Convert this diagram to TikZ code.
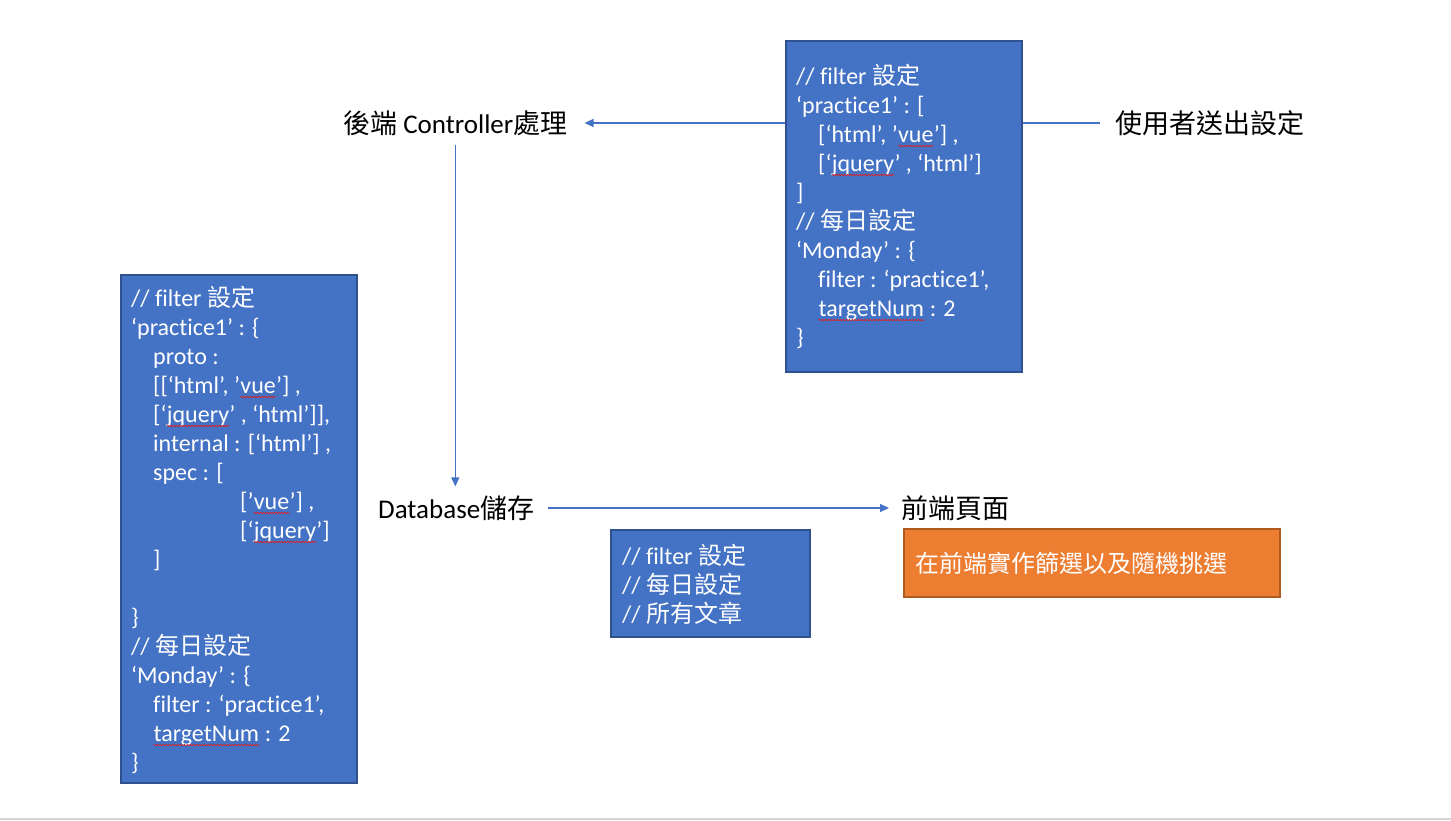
\documentclass[tikz,border=0pt]{standalone}
\usepackage{fontspec}
\setmainfont{Carlito}[Ligatures=NoCommon]
\newfontfamily\cjk{Noto Sans CJK TC}
\usetikzlibrary{arrows.meta,decorations.pathmorphing}
\definecolor{bluefill}{HTML}{4472C4}
\definecolor{blueedge}{HTML}{2F528F}
\definecolor{orangefill}{HTML}{ED7D31}
\definecolor{orangeedge}{HTML}{AE5A21}
\definecolor{rulegray}{HTML}{D4D4D4}
\definecolor{spellred}{HTML}{E02020}
\newcommand\spellmark[1]{\tikz[baseline=(sqword.base)]{\node[inner sep=0pt,outer sep=0pt] (sqword) {#1};
  \draw[spellred, line width=0.7pt, decorate, decoration={snake, amplitude=0.7pt, segment length=3pt}]
    ([yshift=-3.5pt]sqword.base west) -- ([yshift=-3.5pt]sqword.base east);}}
\begin{document}
\begin{tikzpicture}[x=1pt,y=-1pt,
  bluebox/.style={draw=blueedge, fill=bluefill, line width=1.5pt, inner sep=0pt, anchor=north west},
  orangebox/.style={draw=orangeedge, fill=orangefill, line width=1.5pt, inner sep=0pt, anchor=north west},
  code/.style={text=white, font=\fontsize{24}{29}\selectfont, align=left, anchor=north west, inner sep=0pt},
  lbl/.style={font=\fontsize{27}{32}\selectfont, inner sep=0pt, anchor=west},
  conn/.style={draw=bluefill, line width=1.3pt},
  arr/.style={conn, -{Triangle[length=9pt,width=8pt]}}]
\useasboundingbox (0,0) rectangle (1451,820);
\fill[white] (0,0) rectangle (1451,820);
\draw[rulegray, line width=2pt] (0,819) -- (1451,819);

% top-right code box
\node[bluebox, minimum width=236pt, minimum height=331pt] (filterbox) at (785,40) {};
\node[code] (filtertext) at (796,64) {%
// filter {\cjk 設定}\\
‘practice1’ : [\\
\hspace*{22pt}[‘html’, ’\spellmark{vue}’] ,\\
\hspace*{22pt}[‘\spellmark{jquery}’ , ‘html’]\\
]\\
// {\cjk 每日設定}\\
‘Monday’ : \{\\
\hspace*{22pt}filter : ‘practice1’,\\
\hspace*{22pt}\spellmark{targetNum} : 2\\
\}};

% left code box
\node[bluebox, minimum width=236pt, minimum height=508pt] (dbbox) at (120,274) {};
\node[code] (dbtext) at (131,286) {%
// filter {\cjk 設定}\\
‘practice1’ : \{\\
\hspace*{22pt}proto :\\
\hspace*{22pt}[[‘html’, ’\spellmark{vue}’] ,\\
\hspace*{22pt}[‘\spellmark{jquery}’ , ‘html’]],\\
\hspace*{22pt}internal : [‘html’] ,\\
\hspace*{22pt}spec : [\\
\hspace*{109pt}[’\spellmark{vue}’] ,\\
\hspace*{109pt}[‘\spellmark{jquery}’]\\
\hspace*{22pt}]\\
\mbox{}\\
\}\\
// {\cjk 每日設定}\\
‘Monday’ : \{\\
\hspace*{22pt}filter : ‘practice1’,\\
\hspace*{22pt}\spellmark{targetNum} : 2\\
\}};

% small box
\node[bluebox, minimum width=199pt, minimum height=107pt] (sendbox) at (610,529) {};
\node[code] (sendtext) at (622,544) {%
// filter {\cjk 設定}\\
// {\cjk 每日設定}\\
// {\cjk 所有文章}};

% orange box
\node[orangebox, minimum width=376pt, minimum height=68pt] (frontbox) at (903,528) {};
\node[code, anchor=west] (fronttext) at (915,563) {\cjk 在前端實作篩選以及隨機挑選};

% labels
\node[lbl] (user) at (1115,123) {\cjk 使用者送出設定};
\node[lbl] (ctrl) at (343,123) {{\cjk 後端} Controller{\cjk 處理}};
\node[lbl] (db) at (378,508) {Database{\cjk 儲存}};
\node[lbl] (front) at (901,508) {\cjk 前端頁面};

% connectors
\draw[conn, shorten >=15pt] (filterbox.east |- user.west) -- (user.west);
\draw[arr, shorten >=17pt] (filterbox.west |- ctrl.east) -- (ctrl.east);
\draw[arr, shorten <=9pt, shorten >=9pt] (ctrl.south) -- (ctrl.south |- db.north);
\draw[arr, shorten <=14pt, shorten >=12pt] (db.east) -- (front.west);
\end{tikzpicture}
\end{document}
